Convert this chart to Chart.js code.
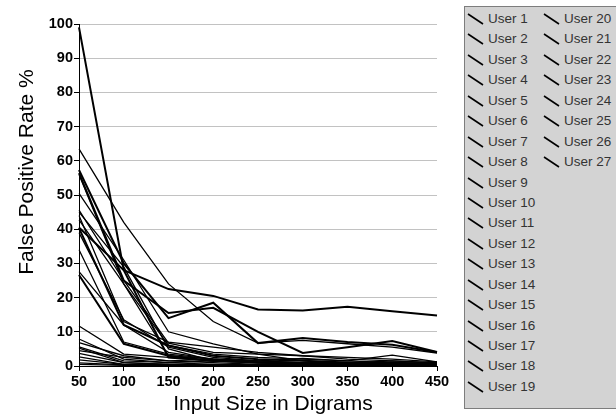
<!DOCTYPE html>
<html lang="en">
<head>
  <meta charset="UTF-8">
  <title>False Positive Rate by Input Size</title>
  <script src="https://cdn.jsdelivr.net/npm/chart.js"></script>
  <style>
    body {
      margin: 0;
      background: #fff;
      font-family: Arial, "Liberation Sans", sans-serif;
    }
    #wrap {
      position: relative;
      width: 616px;
      height: 415px;
      overflow: hidden;
    }
    #legend {
      position: absolute;
      left: 464px;
      top: 6px;
      width: 153px;
      height: 403px;
      box-sizing: border-box;
      background: #d3d3d3;
      border: 1px solid #7d7d7d;
    }
    .item {
      position: absolute;
      height: 16px;
      line-height: 16px;
      font-size: 13.5px;
      color: #333;
      white-space: nowrap;
    }
    .item svg {
      vertical-align: -2px;
      margin-right: 4px;
    }
  </style>
</head>
<body>
  <div id="wrap">
    <canvas id="fpChart" width="616" height="415"></canvas>
    <div id="legend"></div>
  </div>

  <script>
    // input sizes (digrams)
    const sizes = ['50', '100', '150', '200', '250', '300', '350', '400', '450'];

    // false positive rate % per user
    const u1  = [99, 28, 2.5, 1.5, 1, 0.8, 0.5, 0.5, 0.3];
    const u2  = [63.5, 42, 24, 13, 6.7, 7.5, 6.5, 5.5, 3.8];
    const u3  = [40.5, 28, 22.5, 20.5, 16.5, 16.2, 17.3, 16, 14.8];
    const u4  = [57.3, 30, 14, 18.5, 6.7, 8.2, 7, 6.2, 4];
    const u5  = [56.4, 25, 15.5, 17, 10, 3.8, 5.5, 7.3, 4.1];
    const u6  = [50.5, 31, 10, 6.5, 3.5, 1.5, 1, 0.8, 0.5];
    const u7  = [45.6, 25, 6.7, 4, 3.5, 3, 2, 1.5, 0.8];
    const u8  = [44, 13, 7, 5.5, 4, 3, 2.5, 2, 1.2];
    const u9  = [42.7, 24, 3, 2, 1.5, 1, 1, 0.5, 0.5];
    const u10 = [40.3, 12, 6, 3, 2, 1.5, 1, 1, 0.5];
    const u11 = [39, 13.5, 5.5, 2.5, 1.5, 1, 0.8, 0.5, 0.3];
    const u12 = [34, 7, 3.5, 2, 1, 0.5, 0.5, 0.3, 0.2];
    const u13 = [27.6, 12, 4, 2, 1, 0.8, 0.5, 0.3, 0.2];
    const u14 = [26.6, 6.5, 3, 1.5, 1, 0.5, 0.3, 0.3, 0.2];
    const u15 = [11.7, 3.5, 2.5, 1.5, 1, 1, 0.8, 1.5, 1];
    const u16 = [7.9, 2, 1, 1.5, 1.2, 1, 0.5, 0.5, 0.3];
    const u17 = [6.8, 3, 1.5, 1, 0.5, 0.5, 0.3, 0.3, 0.2];
    const u18 = [5.6, 1.5, 1, 0.5, 0.5, 0.3, 0.3, 0.2, 0.1];
    const u19 = [5.2, 1, 0.5, 0.5, 0.3, 0.3, 0.2, 0.2, 0.1];
    const u20 = [4.5, 2.5, 1.5, 2, 1.5, 2.2, 1.5, 3.2, 1.2];
    const u21 = [3.7, 1, 0.5, 0.3, 0.3, 0.2, 0.2, 0.1, 0.1];
    const u22 = [2.7, 0.5, 0.3, 0.3, 0.2, 0.2, 0.1, 0.1, 0];
    const u23 = [1.8, 0.5, 0.5, 0.3, 0.2, 0.1, 0.1, 0.1, 0];
    const u24 = [0.9, 0.3, 0.2, 0.2, 0.1, 0.1, 0, 0, 0];
    const u25 = [0.5, 0.2, 0.1, 0.1, 0, 0, 0, 0, 0];
    const u26 = [56, 24, 6, 3.5, 2.5, 2, 1.5, 1, 0.8];
    const u27 = [45, 29, 5, 1.5, 1, 1, 0.8, 0.5, 0.3];

    const series = [u1, u2, u3, u4, u5, u6, u7, u8, u9, u10, u11, u12, u13, u14,
                    u15, u16, u17, u18, u19, u20, u21, u22, u23, u24, u25, u26, u27];
    const userNames = series.map((s, i) => 'User ' + (i + 1));
    const heavy = [0, 2, 3, 4, 9, 13];   // lines that print darker

    const xTitle = 'Input Size in Digrams';
    const yTitle = 'False Positive Rate %';

    Chart.defaults.font.family = 'Arial, "Liberation Sans", sans-serif';
    Chart.defaults.color = '#000';

    const axisTitles = {
      id: 'axisTitles',
      afterDraw(chart) {
        const { ctx, chartArea } = chart;
        ctx.save();
        ctx.fillStyle = '#000';
        ctx.font = '21px Arial, "Liberation Sans", sans-serif';
        ctx.textAlign = 'center';
        ctx.textBaseline = 'alphabetic';
        ctx.fillText(xTitle, (chartArea.left + chartArea.right) / 2 + 15, 410);
        ctx.translate(33, (chartArea.top + chartArea.bottom) / 2 - 23);
        ctx.rotate(-Math.PI / 2);
        ctx.fillText(yTitle, 0, 0);
        ctx.restore();
      }
    };

    const datasets = series.map((vals, i) => ({
      label: userNames[i],
      data: vals,
      borderColor: '#000',
      borderWidth: heavy.includes(i) ? 2 : 1.3,
      pointRadius: 0,
      tension: 0,
      fill: false
    }));

    new Chart(document.getElementById('fpChart'), {
      type: 'line',
      data: { labels: sizes, datasets: datasets },
      options: {
        responsive: false,
        animation: false,
        layout: { padding: { left: 0, top: 24, right: 179, bottom: 0 } },
        plugins: {
          legend: { display: false },
          tooltip: { enabled: false }
        },
        scales: {
          x: {
            offset: false,
            grid: { drawOnChartArea: false, tickLength: 5, tickColor: '#000' },
            border: { color: '#000' },
            ticks: { font: { size: 14.5, weight: 'bold' }, padding: 2, maxRotation: 0, autoSkip: false },
            afterFit(s) { s.height = 49; }
          },
          y: {
            min: 0,
            max: 100,
            grid: { color: '#c2c2c2', tickLength: 5, tickColor: '#000' },
            border: { color: '#000' },
            ticks: { stepSize: 10, font: { size: 14.5, weight: 'bold' }, padding: 1 },
            afterFit(s) { s.width = 79; }
          }
        }
      },
      plugins: [axisTitles]
    });

    // legend box, two columns like the original
    const legend = document.getElementById('legend');
    userNames.forEach((name, i) => {
      const col = i < 19 ? 0 : 1;
      const row = i < 19 ? i : i - 19;
      const el = document.createElement('div');
      el.className = 'item';
      el.style.left = (col ? 78 : 2) + 'px';
      el.style.top = (19 + row * 20.44 - 7 - 8) + 'px';
      el.innerHTML = '<svg width="17" height="12"><line x1="1" y1="1" x2="16" y2="11" stroke="#000" stroke-width="1.6"/></svg>' + name;
      legend.appendChild(el);
    });
  </script>
</body>
</html>
